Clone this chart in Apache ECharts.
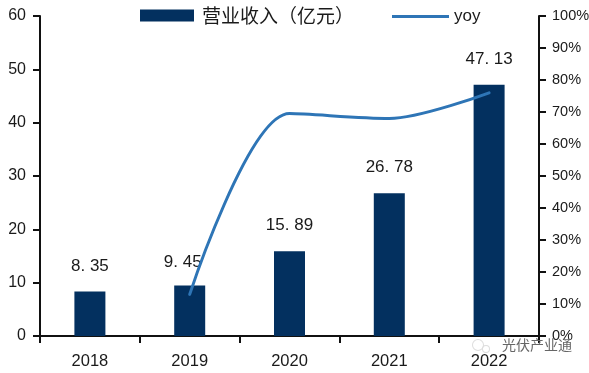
<!DOCTYPE html>
<html><head><meta charset="utf-8">
<style>html,body{margin:0;padding:0;background:#fff}#c{width:589px;height:373px}</style>
<script src="https://cdn.jsdelivr.net/npm/echarts@6/dist/echarts.min.js"></script></head>
<body><div id="c"></div>
<script>
const categories=['2018','2019','2020','2021','2022'];
const revenue=[8.35,9.45,15.89,26.78,47.13];
const yoy=[null,13,69.5,68,76];
const chart=echarts.init(document.getElementById('c'));
const latin='"Liberation Sans",Arial,sans-serif';
const cjk='"Noto Sans CJK SC",sans-serif';
const ink='#1a1a1a';
const axisLine={show:true,lineStyle:{color:'#111',width:2}};
const axisTick={show:true,length:7,lineStyle:{color:'#111',width:2}};
chart.setOption({
animation:false,
textStyle:{fontFamily:latin},
grid:{left:40,right:50,top:16,bottom:37,outerBoundsMode:'none'},
legend:[
{top:6,left:140,padding:0,itemWidth:54,itemHeight:12,textStyle:{fontSize:19,color:ink,fontFamily:cjk,padding:[0,0,0,3]},data:[{name:'营业收入（亿元）',icon:'rect'}]},
{top:8,left:392,padding:0,itemWidth:57,itemHeight:3,textStyle:{fontSize:17,color:ink,fontFamily:latin},data:[{name:'yoy',icon:'rect',itemStyle:{color:'#2e75b6'}}]}
],
xAxis:{type:'category',data:categories,axisTick,axisLine,axisLabel:{fontSize:16.5,color:ink,margin:17}},
yAxis:[{type:'value',min:0,max:60,interval:10,splitLine:{show:false},axisLine,axisTick,axisLabel:{fontSize:16,color:ink,margin:14}},
{type:'value',min:0,max:100,interval:10,splitLine:{show:false},axisLine,axisTick,axisLabel:{fontSize:14.5,color:ink,margin:13,formatter:'{value}%'}}],
series:[
{name:'营业收入（亿元）',type:'bar',barWidth:31,itemStyle:{color:'#03305f'},
 data:revenue.map((v,i)=>i===1?{value:v,label:{offset:[-7,2]}}:v),
 label:{show:true,position:'top',distance:17,fontSize:17,color:ink,formatter:p=>p.value.toFixed(2).replace('.','. ')}},
{name:'yoy',type:'line',yAxisIndex:1,data:yoy,smooth:0.3,symbol:'none',lineStyle:{color:'#2e75b6',width:3,cap:'round'},itemStyle:{color:'#2e75b6'}}
],
graphic:[
{type:'ring',shape:{cx:478,cy:345,r:6,r0:5},style:{fill:'#ddd'},z:50},
{type:'ring',shape:{cx:486,cy:349,r:4,r0:3},style:{fill:'#ddd'},z:50},
{type:'text',left:502,top:338,z:50,style:{text:'光伏产业通',fill:'#666',font:'14px '+cjk}}
]
});
</script></body></html>
